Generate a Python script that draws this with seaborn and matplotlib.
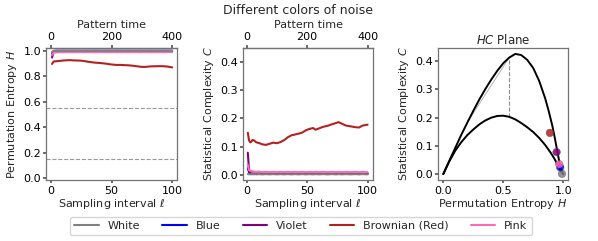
import numpy as np
import pandas as pd
import matplotlib
matplotlib.use("Agg")
import matplotlib.pyplot as plt
import seaborn as sns
from matplotlib.lines import Line2D

# ---------------- data ----------------
names = ["White", "Blue", "Violet", "Brownian (Red)", "Pink"]
colors = ["gray", "blue", "purple", "firebrick", "hotpink"]

ell = [1, 2, 3, 4, 5, 6, 8, 10, 13, 16, 19, 22, 25, 28, 31, 34, 37, 40, 43,
       46, 49, 52, 55, 57, 60, 63, 67, 71, 74, 76, 79, 82, 86, 90, 93, 96, 100]

H_white = [0.990, 0.997, 0.998, 0.998, 0.999, 0.998, 0.998, 0.999, 0.998, 0.998,
           0.999, 0.998, 0.998, 0.999, 0.998, 0.998, 0.999, 0.998, 0.998, 0.999,
           0.998, 0.998, 0.999, 0.998, 0.998, 0.999, 0.998, 0.998, 0.999, 0.998,
           0.998, 0.999, 0.998, 0.998, 0.999, 0.998, 0.998]
H_blue = [0.975, 0.993, 0.997, 0.998, 0.998, 0.998, 0.998, 0.998, 0.998, 0.998,
          0.998, 0.998, 0.998, 0.998, 0.998, 0.998, 0.998, 0.998, 0.998, 0.998,
          0.998, 0.998, 0.998, 0.998, 0.998, 0.998, 0.998, 0.998, 0.998, 0.998,
          0.998, 0.998, 0.998, 0.998, 0.998, 0.998, 0.998]
H_violet = [0.945, 0.985, 0.995, 0.997, 0.997, 0.997, 0.997, 0.997, 0.997, 0.997,
            0.997, 0.997, 0.997, 0.997, 0.997, 0.997, 0.997, 0.997, 0.997, 0.997,
            0.997, 0.997, 0.997, 0.997, 0.997, 0.997, 0.997, 0.997, 0.997, 0.997,
            0.997, 0.997, 0.997, 0.997, 0.997, 0.997, 0.997]
H_brown = [0.895, 0.910, 0.917, 0.915, 0.917, 0.918, 0.920, 0.922, 0.924, 0.925,
           0.923, 0.922, 0.921, 0.917, 0.912, 0.908, 0.905, 0.903, 0.900, 0.897,
           0.892, 0.889, 0.887, 0.888, 0.886, 0.885, 0.882, 0.877, 0.873, 0.872,
           0.873, 0.876, 0.877, 0.878, 0.877, 0.875, 0.868]
H_pink = [0.967, 0.982, 0.985, 0.986, 0.987, 0.987, 0.988, 0.987, 0.988, 0.988,
          0.987, 0.988, 0.988, 0.987, 0.988, 0.988, 0.987, 0.988, 0.988, 0.987,
          0.988, 0.988, 0.987, 0.988, 0.988, 0.987, 0.988, 0.988, 0.987, 0.988,
          0.988, 0.987, 0.988, 0.988, 0.987, 0.988, 0.988]

C_white = [0.002, 0.002, 0.001, 0.002, 0.001, 0.002, 0.001, 0.002, 0.001, 0.002,
           0.001, 0.002, 0.001, 0.002, 0.001, 0.002, 0.001, 0.002, 0.001, 0.002,
           0.001, 0.002, 0.001, 0.002, 0.001, 0.002, 0.001, 0.002, 0.001, 0.002,
           0.001, 0.002, 0.001, 0.002, 0.001, 0.002, 0.001]
C_blue = [0.024, 0.008, 0.004, 0.003, 0.003, 0.003, 0.003, 0.003, 0.003, 0.003,
          0.003, 0.003, 0.003, 0.003, 0.003, 0.003, 0.003, 0.003, 0.003, 0.003,
          0.003, 0.003, 0.003, 0.003, 0.003, 0.003, 0.003, 0.003, 0.003, 0.003,
          0.003, 0.003, 0.003, 0.003, 0.003, 0.003, 0.003]
C_violet = [0.078, 0.015, 0.006, 0.004, 0.004, 0.004, 0.004, 0.004, 0.004, 0.004,
            0.004, 0.004, 0.004, 0.004, 0.004, 0.004, 0.004, 0.004, 0.004, 0.004,
            0.004, 0.004, 0.004, 0.004, 0.004, 0.004, 0.004, 0.004, 0.004, 0.004,
            0.004, 0.004, 0.004, 0.004, 0.004, 0.004, 0.004]
C_brown = [0.149, 0.122, 0.115, 0.118, 0.124, 0.122, 0.115, 0.113, 0.108, 0.106,
           0.110, 0.114, 0.112, 0.116, 0.123, 0.133, 0.140, 0.143, 0.146, 0.150,
           0.158, 0.163, 0.166, 0.160, 0.165, 0.170, 0.174, 0.180, 0.184, 0.187,
           0.181, 0.175, 0.172, 0.169, 0.168, 0.175, 0.178]
C_pink = [0.035, 0.016, 0.014, 0.013, 0.012, 0.011, 0.010, 0.011, 0.009, 0.010,
          0.009, 0.010, 0.009, 0.010, 0.009, 0.010, 0.009, 0.010, 0.009, 0.010,
          0.009, 0.010, 0.009, 0.010, 0.009, 0.010, 0.009, 0.010, 0.009, 0.010,
          0.009, 0.010, 0.009, 0.010, 0.009, 0.010, 0.009]

# HC plane points (ell = 1)
hc_H = [0.990, 0.975, 0.945, 0.889, 0.967]
hc_C = [0.001, 0.024, 0.078, 0.146, 0.035]

# HC plane boundaries
cmax_H = [0.0, 0.05, 0.10, 0.15, 0.20, 0.25, 0.30, 0.35, 0.40, 0.45, 0.50, 0.55,
          0.60, 0.65, 0.70, 0.75, 0.80, 0.85, 0.88, 0.91, 0.93, 0.95, 0.97, 0.985, 1.0]
cmax_C = [0.0, 0.047, 0.093, 0.139, 0.182, 0.224, 0.264, 0.301, 0.335, 0.366,
          0.393, 0.413, 0.426, 0.422, 0.405, 0.376, 0.330, 0.268, 0.222, 0.170,
          0.128, 0.083, 0.038, 0.012, 0.0]
cmin_H = [0.0, 0.05, 0.10, 0.15, 0.20, 0.25, 0.30, 0.35, 0.40, 0.45, 0.50, 0.55,
          0.60, 0.65, 0.70, 0.75, 0.80, 0.85, 0.90, 0.93, 0.96, 0.98, 1.0]
cmin_C = [0.0, 0.045, 0.083, 0.113, 0.138, 0.158, 0.176, 0.190, 0.200, 0.206,
          0.207, 0.203, 0.194, 0.181, 0.166, 0.149, 0.128, 0.103, 0.073, 0.052,
          0.027, 0.012, 0.0]

chord_H = [0.205, 0.548]
chord_C = [0.186, 0.412]
vline_H = 0.548
vline_C = [0.203, 0.412]
H_ref_lines = [0.553, 0.149]

# ---------------- build long table ----------------
H_all = [H_white, H_blue, H_violet, H_brown, H_pink]
C_all = [C_white, C_blue, C_violet, C_brown, C_pink]
rows = []
for n, hs, cs in zip(names, H_all, C_all):
    for l, h, c in zip(ell, hs, cs):
        rows.append({"noise": n, "ell": l, "H": h, "C": c})
df = pd.DataFrame(rows)
hc = pd.DataFrame({"noise": names, "H": hc_H, "C": hc_C})
pal = dict(zip(names, colors))

# ---------------- styling ----------------
sns.set_theme(style="ticks")
plt.rcParams["font.family"] = ["DejaVu Sans"]
plt.rcParams.update({
    "font.size": 8, "axes.labelsize": 8, "xtick.labelsize": 8, "ytick.labelsize": 8,
    "axes.titlesize": 8, "axes.edgecolor": "0.45", "axes.linewidth": 0.9,
    "xtick.color": "0.35", "ytick.color": "0.35", "xtick.labelcolor": "black",
    "ytick.labelcolor": "black", "xtick.major.size": 2.5, "ytick.major.size": 2.5,
    "xtick.major.pad": 1.5, "ytick.major.pad": 1.0,
    "mathtext.fontset": "dejavusans",
})

fig = plt.figure(figsize=(5.98, 2.41), dpi=100)
W, Hf = 598, 241
def rect(l, r, t, b):
    return [l / W, (Hf - b) / Hf, (r - l) / W, (b - t) / Hf]

ax1 = fig.add_axes(rect(46, 177, 48, 180))
ax2 = fig.add_axes(rect(243, 373, 48, 180))
ax3 = fig.add_axes(rect(438, 568, 48, 180))

for ax, ycol in [(ax1, "H"), (ax2, "C")]:
    sns.lineplot(data=df, x="ell", y=ycol, hue="noise", palette=pal,
                 hue_order=names, linewidth=1.5, legend=False, ax=ax)
    # keep White visible on top, as in the reference
    ax.get_lines()[0].set_zorder(3)
    ax.set_xlabel(r"Sampling interval $\ell$", labelpad=1)
    ax.set_xticks([0, 50, 100])
    sec = ax.secondary_xaxis("top", functions=(lambda x: 4 * x, lambda x: x / 4))
    sec.set_xticks([0, 200, 400])
    sec.set_xlabel("Pattern time", labelpad=3)
    sec.tick_params(pad=1.5)

for yv in H_ref_lines:
    ax1.axhline(yv, color="0.6", ls="--", lw=0.8, zorder=0)
ax1.set_ylim(-0.013, 1.02)
ax1.set_xlim(-4, 104)
ax1.set_yticks([0.0, 0.2, 0.4, 0.6, 0.8, 1.0])
ax1.set_ylabel(r"Permutation Entropy $H$", labelpad=3)

ax2.set_ylim(-0.019, 0.451)
ax2.set_xlim(-3, 104.5)
ax2.set_yticks([0.0, 0.1, 0.2, 0.3, 0.4])
ax2.set_ylabel(r"Statistical Complexity $C$", labelpad=3)

# HC plane
ax3.plot(chord_H, chord_C, color="0.7", lw=0.7, zorder=1)
ax3.plot([vline_H, vline_H], vline_C, color="0.55", ls="--", lw=0.8, zorder=1)
ax3.plot(cmax_H, cmax_C, color="black", lw=1.4, zorder=2)
ax3.plot(cmin_H, cmin_C, color="black", lw=1.4, zorder=2)
sns.scatterplot(data=hc, x="H", y="C", hue="noise", palette=pal, hue_order=names,
                s=30, alpha=0.85, edgecolor="0.3", linewidth=0.3, legend=False,
                ax=ax3, zorder=5)
ax3.set_xlim(-0.044, 1.04)
ax3.set_ylim(-0.021, 0.447)
ax3.set_xticks([0.0, 0.5, 1.0])
ax3.set_yticks([0.0, 0.1, 0.2, 0.3, 0.4])
ax3.set_xlabel(r"Permutation Entropy $H$", labelpad=1)
ax3.set_ylabel(r"Statistical Complexity $C$", labelpad=3)
ax3.set_title(r"$HC$ Plane", pad=3, fontsize=8.5)

fig.text(0.499, 0.955, "Different colors of noise", ha="center", va="center", fontsize=9)

handles = [Line2D([0], [0], color=c, lw=1.5) for c in colors]
fig.legend(handles, names, loc="lower center", bbox_to_anchor=(0.503, 0.0),
           ncol=5, fontsize=8, frameon=True, handlelength=2.2, columnspacing=2.0,
           borderpad=0.4, edgecolor="0.8")

fig.savefig("out.png", dpi=100)
